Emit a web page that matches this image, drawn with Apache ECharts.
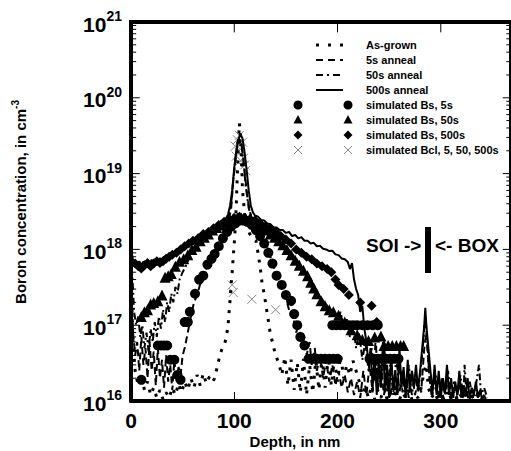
<!DOCTYPE html>
<html><head><meta charset="utf-8">
<script src="https://cdn.jsdelivr.net/npm/echarts@6/dist/echarts.min.js"></script>
<style>html,body{margin:0;padding:0;background:#fff}#c{width:511px;height:451px}</style>
</head><body><div id="c"></div>
<script>
// ---------- data (depth in nm, boron concentration in cm^-3) ----------
const xTickValues = [0, 100, 200, 300];
const yDecades = [1e16, 1e17, 1e18, 1e19, 1e20, 1e21];
const legendLabels = ['As-grown', '5s anneal', '50s anneal', '500s anneal',
  'simulated Bs, 5s', 'simulated Bs, 50s', 'simulated Bs, 500s', 'simulated Bcl, 5, 50, 500s'];

const asGrown = [[0,3e17],[2,6e16],[4,2.5e16],[7,1.6e16],[10,2.2e16],[13,1.4e16],[16,1.8e16],[19,1.2e16],[22,1.5e16],[25,1.1e16],[28,1.4e16],[31,1.05e16],[34,1.3e16],[37,1.1e16],[40,1.5e16],[43,1.2e16],[46,1.7e16],[49,1.3e16],[52,1.8e16],[55,1.4e16],[58,2e16],[61,1.5e16],[64,2.2e16],[67,1.6e16],[70,2.3e16],[73,1.7e16],[76,2.1e16],[79,1.8e16],[81,2e16],[84,3e16],[86,4e16],[88,4.8e16],[90,5.5e16],[92,6.5e16],[94,1e17],[95,1.5e17],[96,2.2e17],[97,3.5e17],[98,5e17],[99,8e17],[100,1.2e18],[101,2e18],[102,4e18],[103,1e19],[104,2.5e19],[105,4.6e19],[106,3e19],[107,1.5e19],[108,6e18],[110,3e18],[112,2e18],[115,1.6e18],[118,1.4e18],[121,1.3e18],[123,9e17],[125,6e17],[127,3.5e17],[129,2.6e17],[131,1.7e17],[133,1.15e17],[135,7.5e16],[137,6e16],[140,4e16],[143,3.2e16],[146,2.2e16],[149,3.8e16],[152,1.6e16],[155,3.5e16],[158,1.4e16],[161,3.2e16],[164,1.3e16],[167,3.6e16],[170,1.2e16],[173,3e16],[176,1.3e16],[179,3.4e16],[182,1.4e16],[185,3.8e16],[188,1.5e16],[191,4e16],[194,1.6e16],[197,3.5e16],[200,1.8e16],[203,4e16],[206,2e16],[209,3e16],[212,2.2e16],[215,3.4e16],[218,2.5e16],[221,1.8e16],[224,1.2e16],[227,1.5e16],[230,1.1e16],[233,1.6e16],[236,1.05e16],[239,1.4e16],[242,1.1e16],[245,1.5e16],[248,1.05e16],[251,1.3e16],[254,1.1e16],[257,1.5e16],[260,1.05e16],[263,1.3e16],[266,1.1e16],[269,1.4e16],[272,1.05e16],[275,1.2e16],[278,1.1e16],[281,1.5e16],[284,2.5e16],[286,3e16],[288,1.5e16],[291,1.1e16],[294,1.3e16],[297,1.05e16],[300,1.2e16],[303,1.05e16],[306,1.3e16],[309,1.05e16],[312,1.2e16],[315,1.05e16],[318,1.3e16],[321,1.05e16],[324,1.2e16],[327,1.05e16],[330,1.15e16],[333,1.05e16],[336,1.2e16],[339,1.02e16],[342,1.1e16]];

const anneal5s = [[0,6e17],[1,2e17],[2,8e16],[4,4e16],[6,6e16],[8,2.5e16],[10,7e16],[12,3e16],[14,5e16],[16,2e16],[18,6e16],[20,2.5e16],[22,4.5e16],[24,1.6e16],[26,5e16],[28,2e16],[30,3.5e16],[32,1.5e16],[34,4e16],[36,1.8e16],[38,3e16],[40,1.4e16],[42,3.5e16],[44,1.8e16],[46,2.8e16],[48,2.2e16],[50,4e16],[52,5e16],[55,8e16],[58,1.3e17],[61,2e17],[64,2.5e17],[67,3.5e17],[70,4.5e17],[75,6.5e17],[80,9e17],[85,1.2e18],[90,1.6e18],[94,2.2e18],[97,3.5e18],[99,8e18],[101,1.5e19],[103,2.3e19],[105,2.8e19],[107,2.4e19],[109,1.5e19],[111,8e18],[113,4.5e18],[116,2.8e18],[120,2.2e18],[125,1.8e18],[130,1.3e18],[135,8e17],[140,5e17],[145,3.5e17],[150,2.3e17],[153,1.6e17],[156,2e17],[158,1.1e17],[160,8e16],[163,1.1e17],[165,5e16],[168,7e16],[170,4e16],[173,6e16],[175,3e16],[178,5e16],[180,2.5e16],[183,4e16],[186,2e16],[189,3.5e16],[192,1.8e16],[195,3e16],[198,1.6e16],[201,2.5e16],[204,1.5e16],[207,2.2e16],[210,1.3e16],[213,2e16],[216,1.2e16],[219,1.8e16],[222,1.1e16],[225,2.5e16],[228,1.2e16],[231,3e16],[234,1.3e16],[237,7e16],[239,1.4e16],[242,3e16],[245,1.2e16],[248,2.5e16],[251,1.1e16],[254,2e16],[257,1.2e16],[260,3e16],[263,1.3e16],[266,2e16],[269,1.1e16],[272,2.5e16],[275,1.2e16],[278,1.8e16],[281,1.3e16],[284,5e16],[286,8e16],[288,3e16],[291,1.2e16],[294,2e16],[297,1.1e16],[300,1.6e16],[303,1.05e16],[306,2e16],[309,1.1e16],[312,1.5e16],[315,1.05e16],[318,1.7e16],[321,1.1e16],[324,1.4e16],[327,1.05e16],[330,1.5e16],[333,1.1e16],[336,1.3e16],[339,1.05e16],[342,1.2e16]];

const anneal50s = [[0,9e17],[1,5e17],[2,3e17],[3,1.5e17],[5,1e17],[7,1.3e17],[9,7e16],[11,1e17],[13,5e16],[15,8e16],[17,4.5e16],[19,9e16],[21,6e16],[23,1.1e17],[25,7e16],[27,1.3e17],[29,9e16],[31,1.6e17],[33,1.1e17],[35,2e17],[37,1.5e17],[39,2.6e17],[41,2e17],[43,3.2e17],[45,2.6e17],[47,4e17],[50,5e17],[53,6e17],[56,7.5e17],[60,9e17],[65,1.1e18],[70,1.3e18],[75,1.5e18],[80,1.7e18],[85,1.9e18],[90,2.1e18],[94,2.6e18],[97,4e18],[99,8e18],[101,1.5e19],[103,2.6e19],[105,3e19],[107,2.5e19],[109,1.4e19],[111,7e18],[114,3.5e18],[117,2.6e18],[120,2.5e18],[125,2.3e18],[130,2e18],[135,1.8e18],[140,1.5e18],[145,1.3e18],[150,1.1e18],[155,9e17],[160,7.5e17],[165,6e17],[170,4.5e17],[175,3.6e17],[180,2.8e17],[185,2.2e17],[190,1.8e17],[195,1.5e17],[200,1.2e17],[203,1.5e17],[206,9e16],[209,1.2e17],[212,7e16],[215,1e17],[218,5e16],[221,8e16],[224,3.5e16],[227,6e16],[230,2.5e16],[233,5e16],[236,1.8e16],[239,4e16],[242,1.5e16],[245,6e16],[248,1.3e16],[251,3e16],[254,1.2e16],[257,4e16],[260,1.3e16],[263,2.5e16],[266,1.1e16],[269,3e16],[272,1.2e16],[275,2.2e16],[278,1.3e16],[281,3e16],[283,6e16],[285,1.3e17],[287,6e16],[289,2e16],[292,1.2e16],[295,2.2e16],[298,1.1e16],[301,2e16],[304,1.2e16],[307,2.5e16],[310,1.1e16],[313,1.8e16],[316,1.2e16],[319,2.2e16],[322,1.1e16],[323,3e16],[325,1.2e16],[328,1.8e16],[331,1.1e16],[334,1.6e16],[337,3e16],[339,1.2e16],[342,1.5e16],[345,1.1e16]];

const anneal500s = [[0,1.1e18],[1,8.5e17],[2,7.2e17],[4,6.8e17],[6,6.3e17],[8,7e17],[10,6.2e17],[12,6.9e17],[14,6.1e17],[16,7.1e17],[18,6.4e17],[20,7.3e17],[22,6.6e17],[24,7.6e17],[26,6.9e17],[28,7.7e17],[30,7.1e17],[32,8.1e17],[34,7.4e17],[36,8.4e17],[38,7.8e17],[40,8.6e17],[43,9.2e17],[46,1e18],[49,1.05e18],[52,1.15e18],[55,1.2e18],[58,1.3e18],[61,1.3e18],[64,1.45e18],[67,1.5e18],[70,1.65e18],[73,1.7e18],[76,1.8e18],[79,1.85e18],[82,2e18],[85,2.05e18],[88,2.2e18],[91,2.4e18],[94,2.9e18],[96,3.8e18],[98,6e18],[100,1.2e19],[102,2e19],[104,2.8e19],[106,3.3e19],[108,2.9e19],[110,1.9e19],[112,1.1e19],[114,6e18],[116,3.8e18],[118,3.1e18],[120,2.8e18],[123,2.7e18],[126,2.45e18],[129,2.4e18],[132,2.2e18],[135,2.15e18],[138,1.95e18],[141,1.95e18],[144,1.8e18],[147,1.8e18],[150,1.65e18],[153,1.7e18],[156,1.5e18],[159,1.55e18],[162,1.4e18],[165,1.45e18],[168,1.3e18],[171,1.3e18],[174,1.2e18],[177,1.22e18],[180,1.1e18],[183,1.12e18],[186,1.02e18],[189,1e18],[192,9.5e17],[195,9.6e17],[198,8.6e17],[201,8.4e17],[204,7.6e17],[207,7.4e17],[210,6.8e17],[212,5.5e17],[214,6.6e17],[216,4e17],[218,3e17],[220,2.5e17],[222,1.5e17],[224,1.8e17],[226,9e16],[228,6e16],[230,3e16],[232,5e16],[234,1.5e16],[236,4e16],[238,1.2e16],[240,3.5e16],[242,1.5e16],[244,6e16],[246,1.3e16],[248,3e16],[250,1.1e16],[252,4e16],[254,1.4e16],[256,2.5e16],[258,1.2e16],[260,5e16],[262,1.5e16],[264,2.8e16],[266,1.1e16],[268,3.5e16],[270,1.3e16],[272,2.5e16],[274,1.5e16],[276,3e16],[278,1.4e16],[280,2.5e16],[282,5e16],[284,1e17],[285,1.7e17],[286,1e17],[288,5e16],[290,2.5e16],[292,1.3e16],[294,3e16],[296,1.2e16],[298,2.5e16],[300,1.1e16],[302,2e16],[304,1.3e16],[306,3e16],[308,1.2e16],[310,2e16],[312,1.1e16],[314,1.8e16],[316,1.2e16],[318,2.5e16],[320,1.1e16],[322,1.6e16],[324,1.2e16],[326,2e16],[328,1.05e16],[330,1.5e16],[332,1.2e16],[334,1.8e16],[336,1.1e16],[338,1.4e16],[340,1.05e16],[342,1.2e16],[344,1e16]];

const simBs5s = [[10,1.9e16],[26,5.4e16],[29,5.4e16],[32,5.4e16],[35,5.4e16],[38,3.5e16],[42,3.5e16],[45,2.2e16],[48,1.9e16],[52,1.1e17],[55,1.1e17],[57,1.5e17],[62,2.6e17],[66,4e17],[70,4.5e17],[74,6.3e17],[78,7.5e17],[81,8.7e17],[85,1.1e18],[89,1.4e18],[93,1.7e18],[97,2e18],[101,2.2e18],[105,2.4e18],[109,2.4e18],[113,2.3e18],[117,2.1e18],[121,1.8e18],[125,1.5e18],[129,1.2e18],[133,9e17],[137,6.5e17],[141,4.5e17],[146,3.4e17],[150,2.5e17],[155,2.1e17],[158,1.4e17],[161,1e17],[164,7e16],[168,5.4e16],[172,3.6e16],[176,3.6e16],[180,3.6e16],[184,3.6e16],[188,3.6e16],[192,3.6e16],[196,3.6e16],[200,3.6e16],[195,1e17],[199,1e17],[203,1e17],[207,1e17],[211,1e17],[215,1e17],[219,1e17],[224,1e17],[229,1e17],[234,1e17],[239,1e17],[231,3.6e16],[235,3.6e16],[239,3.6e16],[243,3.6e16],[247,3.6e16],[251,3.6e16],[255,3.6e16],[259,3.6e16]];

const simBs50s = [[10,1.3e17],[13,1.5e17],[16,1.6e17],[19,1.9e17],[22,2e17],[26,2.1e17],[30,2.5e17],[33,4.3e17],[36,4.5e17],[39,4.8e17],[43,6e17],[47,7e17],[51,7.5e17],[55,8.5e17],[59,1e18],[63,1.1e18],[67,1.3e18],[71,1.45e18],[75,1.6e18],[79,1.8e18],[83,1.95e18],[87,2.1e18],[91,2.3e18],[95,2.45e18],[99,2.55e18],[103,2.6e18],[107,2.6e18],[111,2.55e18],[115,2.45e18],[119,2.3e18],[123,2.15e18],[127,2e18],[131,1.8e18],[135,1.6e18],[139,1.45e18],[143,1.3e18],[147,1.15e18],[151,1e18],[155,8.5e17],[159,7.2e17],[163,6.2e17],[167,5.3e17],[171,4.5e17],[174,3.7e17],[177,3.1e17],[180,2.6e17],[184,2.1e17],[188,1.8e17],[192,1.6e17],[196,1.5e17],[201,1.35e17],[207,1.1e17],[213,8.7e16],[219,7.5e16],[224,6.5e16],[230,6.3e16],[236,7e16],[242,7.2e16],[245,5.4e16],[249,5.4e16],[253,5.4e16],[257,5.4e16],[261,5.4e16],[264,5.4e16]];

const simBs500s = [[4,6.5e17],[7,6e17],[10,5.6e17],[13,6.2e17],[16,6.6e17],[19,6e17],[22,6.5e17],[25,7e17],[28,6.6e17],[31,7e17],[34,7.5e17],[37,8e17],[40,8.5e17],[44,9e17],[48,1e18],[52,1.1e18],[56,1.2e18],[60,1.3e18],[65,1.4e18],[70,1.6e18],[75,1.7e18],[80,1.9e18],[85,2.1e18],[90,2.3e18],[95,2.5e18],[100,2.6e18],[105,2.7e18],[110,2.6e18],[115,2.5e18],[120,2.4e18],[125,2.2e18],[130,2e18],[135,1.9e18],[140,1.7e18],[145,1.5e18],[150,1.35e18],[155,1.2e18],[160,1e18],[165,9e17],[170,8e17],[175,7.4e17],[180,6.5e17],[185,6e17],[190,5.5e17],[194,5e17],[198,4e17],[201,3.4e17],[206,3e17],[211,2.5e17],[222,2e17],[233,1.8e17],[238,1.1e17]];

const simBcl = [[98,3.4e17],[99,2.7e17],[117,2.2e17],[140,1.6e17],[101,2.3e19],[102,1.7e19],[103,2.8e19],[105,3.2e19],[106,2.1e19],[108,2.6e19],[109,1.6e19],[110,1.3e19],[111,1.1e19],[104,1.4e19]];

// ---------- chart ----------
const font = 'Liberation Sans, Arial, Helvetica, sans-serif';
const xMin = 0, xMax = 368, yMin = 1e16, yMax = 1e21;
const yMinor = [];
yDecades.slice(0, -1).forEach(d => { for (let k = 2; k <= 9; k++) yMinor.push(d * k); });
const yMajor = yDecades.map((d, i) => i === yDecades.length - 1 ? d * 0.99999 : d);
const expOf = v => Math.round(Math.log10(v));

const frame = [[xMin, yMin], [xMin, yMax], [xMax, yMax], [xMax, yMin], [xMin, yMin]];
const tickPath = [];
xTickValues.slice(1).forEach(v => { tickPath.push([v, yMax], [v, yMax * 0.73], [v, '-']); });
yDecades.forEach(v => { tickPath.push([xMin, v], [xMin + 8.5, v], ['-', v], [xMax, v], [xMax - 8, v], ['-', v]); });
yMinor.forEach(v => { tickPath.push([xMin, v], [xMin + 5, v], ['-', v], [xMax, v], [xMax - 4.5, v], ['-', v]); });

const chart = echarts.init(document.getElementById('c'), null, {renderer: 'svg'});

const xAxes = [
  {type: 'value', position: 'bottom', min: xMin, max: xMax, interval: 100,
   splitLine: {show: false},
   axisLine: {show: true, onZero: false, lineStyle: {color: '#000', width: 4}},
   axisTick: {show: true, inside: true, length: 9, customValues: xTickValues, lineStyle: {color: '#000', width: 1}},
   axisLabel: {show: true, margin: 9, fontFamily: font, fontSize: 21, fontWeight: 'bold', color: '#000',
     customValues: xTickValues}}
];
const yAxes = [
  {type: 'log', logBase: 10, min: yMin, max: yMax, position: 'left', splitLine: {show: false},
   axisLine: {show: true, onZero: false, lineStyle: {color: '#000', width: 4}},
   axisTick: {show: false},
   axisLabel: {show: true, customValues: yMajor, margin: 9, padding: [4, 0, 0, 0],
     formatter: v => '{a|10}{b|' + expOf(v) + '}',
     rich: {a: {fontFamily: font, fontSize: 21, fontWeight: 'bold', color: '#000', lineHeight: 30},
            b: {fontFamily: font, fontSize: 14, fontWeight: 'bold', color: '#000', lineHeight: 14, verticalAlign: 'top'}}}}
];

const lineSeries = (name, data, type, width) => ({
  name, type: 'line', data, showSymbol: false, symbol: 'none',
  lineStyle: {color: '#000', width, type}
});
const scatterSeries = (name, data, symbol, size, style) => ({
  name, type: 'scatter', data, symbol, symbolSize: size,
  itemStyle: Object.assign({opacity: 1}, style)
});

const g = [];
// plot frame (same pixel box as the grid below), drawn on top
g.push({type: 'polyline', z: 100, shape: {points: [[131, 401], [131, 22], [513, 22], [513, 401], [131, 401]]},
  style: {stroke: '#000', lineWidth: 4, fill: null, lineJoin: 'miter'}});
// legend drawn as graphic (two marker samples per simulated entry, as in the figure)
const legY = [45, 60, 75, 90, 105, 120, 135, 150];
const lineSample = (y, dash, w) => g.push({type: 'line', shape: {x1: 316, y1: y, x2: 343, y2: y},
  style: {stroke: '#000', lineWidth: w, lineDash: dash}, z: 100});
lineSample(legY[0], [3, 9], 3);
lineSample(legY[1], [7, 5], 2);
lineSample(legY[2], [7, 4, 2, 4], 2);
lineSample(legY[3], null, 2);
[298, 348].forEach(cx => {
  g.push({type: 'circle', shape: {cx, cy: legY[4], r: 4.5}, style: {fill: '#000'}, z: 100});
  const y1 = legY[5];
  g.push({type: 'polygon', shape: {points: [[cx, y1 - 5], [cx + 4.5, y1 + 3.5], [cx - 4.5, y1 + 3.5]]}, style: {fill: '#000'}, z: 100});
  const y2 = legY[6];
  g.push({type: 'polygon', shape: {points: [[cx, y2 - 4.5], [cx + 4.5, y2], [cx, y2 + 4.5], [cx - 4.5, y2]]}, style: {fill: '#000'}, z: 100});
  const y3 = legY[7];
  g.push({type: 'line', shape: {x1: cx - 4, y1: y3 - 4, x2: cx + 4, y2: y3 + 4}, style: {stroke: '#888', lineWidth: 1}, z: 100});
  g.push({type: 'line', shape: {x1: cx + 4, y1: y3 - 4, x2: cx - 4, y2: y3 + 4}, style: {stroke: '#888', lineWidth: 1}, z: 100});
});
legendLabels.forEach((t, i) => g.push({type: 'text', x: 366, y: legY[i], z: 100,
  style: {text: t, fill: '#000', font: 'bold 11px ' + font, verticalAlign: 'middle'}}));
// SOI / BOX annotation
g.push({type: 'text', x: 366, y: 245, z: 100, style: {text: 'SOI ->', fill: '#000', font: 'bold 19px ' + font, verticalAlign: 'middle'}});
g.push({type: 'rect', shape: {x: 425, y: 227, width: 6, height: 46}, style: {fill: '#000'}, z: 100});
g.push({type: 'text', x: 435, y: 245, z: 100, style: {text: '<- BOX', fill: '#000', font: 'bold 19px ' + font, verticalAlign: 'middle'}});
// axis titles
g.push({type: 'text', x: 295, y: 441, z: 100, style: {text: 'Depth, in nm', fill: '#000', font: 'bold 15px ' + font, align: 'center', verticalAlign: 'middle'}});
g.push({type: 'text', x: 20, y: 202, rotation: Math.PI / 2, z: 100,
  style: {text: '{t|Boron concentration, in cm}{s|-3}', align: 'center', verticalAlign: 'middle',
    rich: {t: {fontFamily: font, fontSize: 15, fontWeight: 'bold', fill: '#000', lineHeight: 20},
           s: {fontFamily: font, fontSize: 10, fontWeight: 'bold', fill: '#000', lineHeight: 10, verticalAlign: 'top'}}}});

chart.setOption({
  animation: false,
  grid: {left: 131, right: -2, top: 22, bottom: 50},
  xAxis: xAxes,
  yAxis: yAxes,
  graphic: g,
  series: [
    lineSeries(legendLabels[0], asGrown, [3, 7], 3),
    lineSeries(legendLabels[1], anneal5s, [7, 4], 2),
    lineSeries(legendLabels[2], anneal50s, [7, 3, 2, 3], 2),
    lineSeries(legendLabels[3], anneal500s, 'solid', 2),
    scatterSeries(legendLabels[4], simBs5s, 'circle', 10, {color: '#000'}),
    scatterSeries(legendLabels[5], simBs50s, 'triangle', 11, {color: '#000'}),
    scatterSeries(legendLabels[6], simBs500s, 'diamond', 10, {color: '#000'}),
    scatterSeries(legendLabels[7], simBcl, 'path://M0,0L10,10M10,0L0,10', 9,
      {color: 'none', borderColor: '#888', borderWidth: 1}),
    {name: 'frame', type: 'line', data: frame, showSymbol: false, symbol: 'none', clip: false, silent: true, z: 10,
     lineStyle: {color: '#000', width: 4, join: 'miter'}},
    {name: 'ticks', type: 'line', data: tickPath, showSymbol: false, symbol: 'none', clip: false, silent: true, z: 10,
     connectNulls: false, lineStyle: {color: '#000', width: 1}}
  ]
});
</script></body></html>
